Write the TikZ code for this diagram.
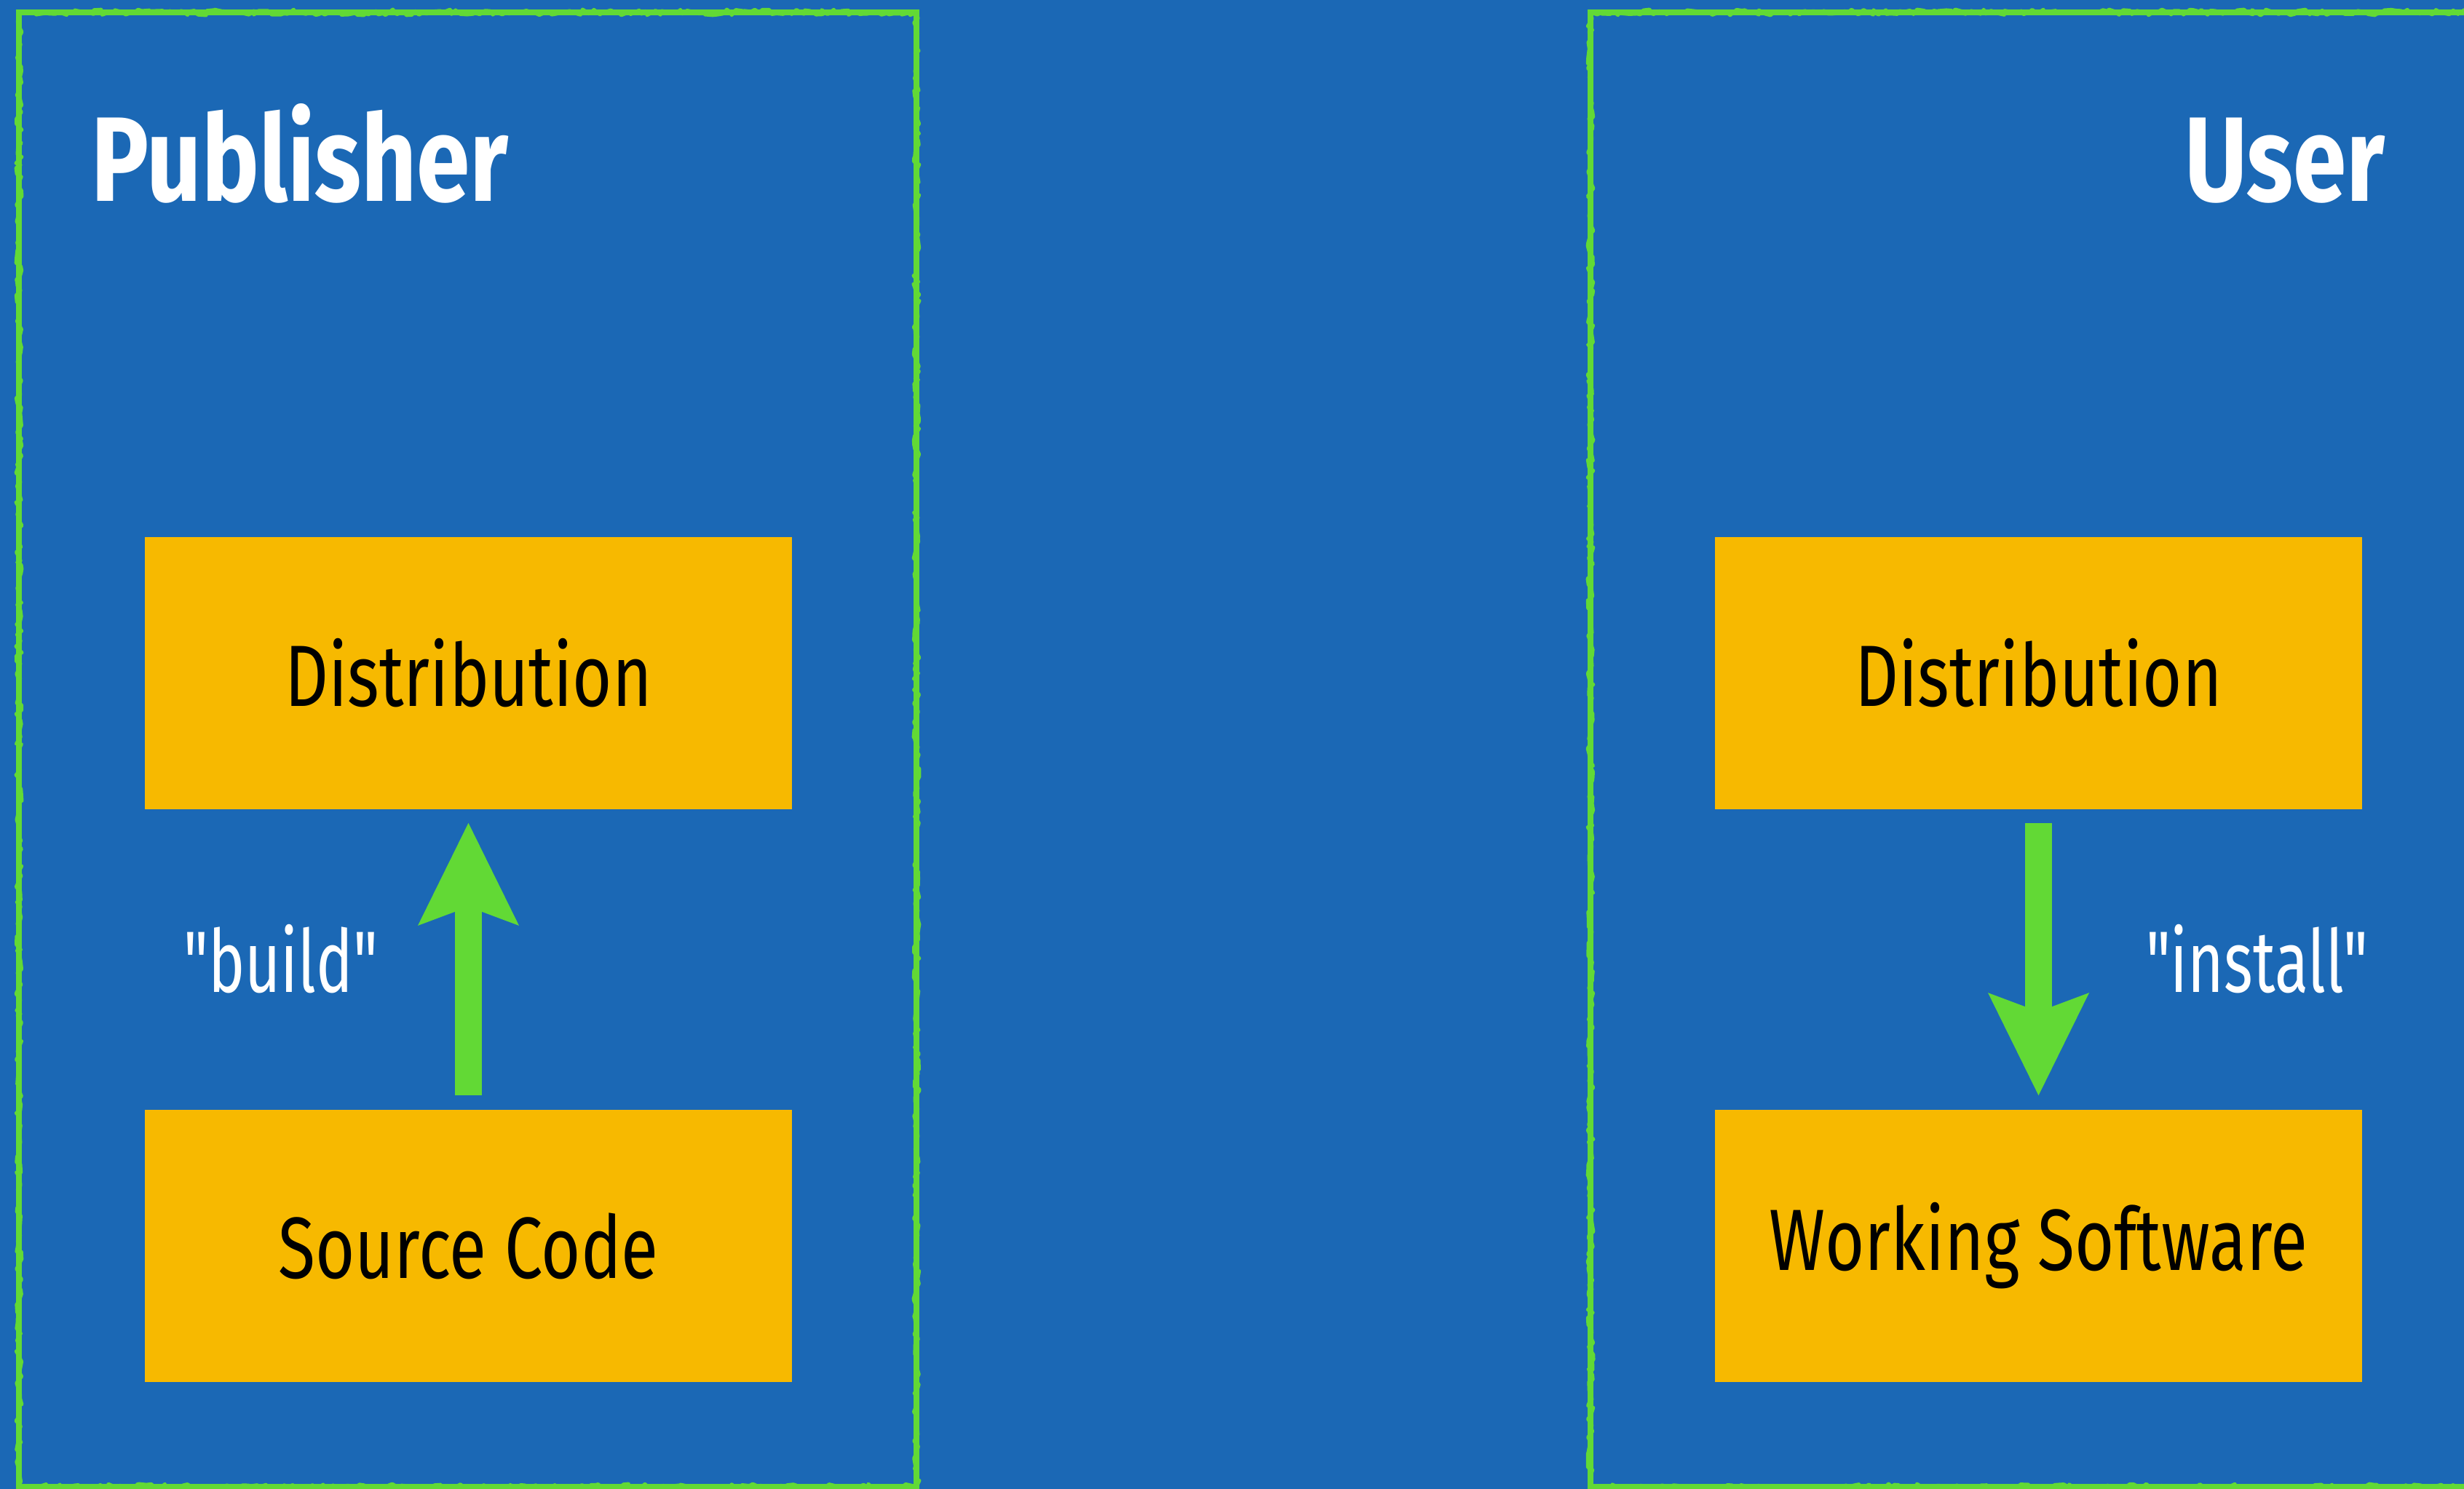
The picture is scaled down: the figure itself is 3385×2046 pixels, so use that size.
\documentclass[tikz,border=0pt]{standalone}
\usepackage{fontspec}
\usetikzlibrary{arrows.meta,decorations.pathmorphing}
\newfontfamily\headfont[FakeStretch=0.8]{Fira Sans}
\newfontfamily\bodyfont[FakeStretch=0.78]{Fira Sans}
\newfontfamily\tagfont[FakeStretch=0.71]{Fira Sans}
\definecolor{bgblue}{HTML}{1B68B5}
\definecolor{grass}{HTML}{62D935}
\definecolor{amber}{HTML}{F7B900}
\begin{document}
\begin{tikzpicture}[x=0.01cm,y=-0.01cm,
	panel/.style={draw=grass,line width=0.075cm},
	rough/.style={draw=grass,line width=0.05cm,line join=round,
		decorate,decoration={random steps,segment length=0.06cm,amplitude=0.04cm}},
	card/.style={fill=amber,minimum width=8.89cm,minimum height=3.74cm,inner sep=0pt,
		font=\bodyfont\fontsize{34}{40}\selectfont},
	flow/.style={draw=grass,line width=0.37cm,
		-{Stealth[length=1.41cm,width=1.39cm,inset=0.26cm,line width=0pt]}},
	tag/.style={text=white,inner sep=0pt,font=\tagfont\fontsize{34}{40}\selectfont},
	side/.style={text=white,inner sep=0pt,font=\headfont\bfseries\fontsize{47}{50}\selectfont}]
	\pgfmathsetseed{7}
	\useasboundingbox (0,0) rectangle (3385,2046);
	\fill[bgblue] (0,0) rectangle (3385,2046);
	\draw[panel] (26,17) rectangle (1259,2043);
	\draw[rough] (26,17) rectangle (1259,2043);
	\draw[panel] (2185,17) rectangle (3440,2043);
	\draw[rough] (2185,17) rectangle (3440,2043);
	\node[side,anchor=base west] (pub) at (125,277) {Publisher};
	\node[side,anchor=base east] (usr) at (3277,277) {User};
	\node[card] (distL) at (643.5,925) {Distribution};
	\node[card] (srcL) at (643.5,1712) {Source Code};
	\node[card] (distR) at (2800.5,925) {Distribution};
	\node[card] (softR) at (2800.5,1712) {Working Software};
	\draw[flow] ([yshift=0.19cm]srcL.north) -- node[tag,left=1.06cm] {"build"} ([yshift=-0.18cm]distL.south);
	\draw[flow] ([yshift=-0.18cm]distR.south) -- node[tag,right=1.29cm] {"install"} ([yshift=0.19cm]softR.north);
\end{tikzpicture}
\end{document}
